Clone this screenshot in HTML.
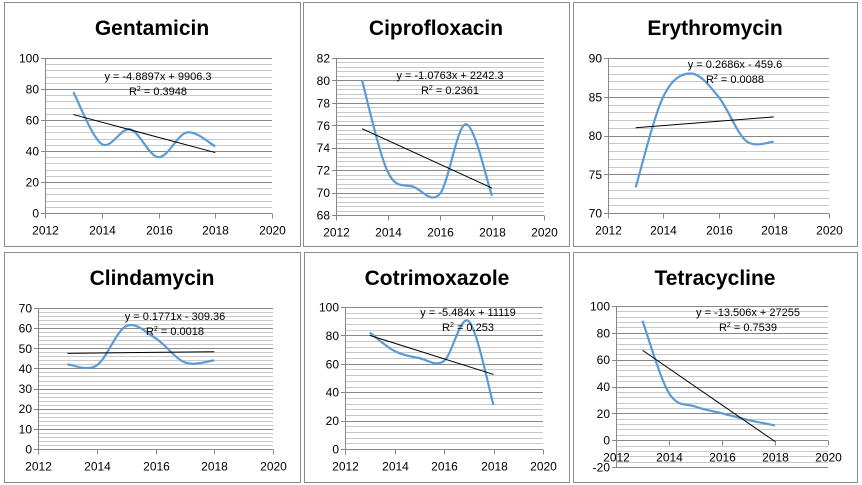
<!DOCTYPE html><html><head><style>body{margin:0;background:#fff;width:862px;height:485px;overflow:hidden}svg{display:block}text{font-family:"Liberation Sans",sans-serif}</style></head><body>
<svg id="s" width="862" height="485" xmlns="http://www.w3.org/2000/svg"></svg>
<script>
const S=document.getElementById('s');let h='';
const P=[
{b:[4,2,296,244],t:'Gentamicin',tx:152,x0:45,x1:272,ymin:0,ymax:100,yt:58,yb:213,step:20,d:[78,44.5,54,36,52,43],tr:[63.5,39],ex:158,ey:80,eq:'y = -4.8897x + 9906.3',r:'0.3948'},
{b:[303,2,266,244],t:'Ciprofloxacin',tx:436,x0:336,x1:544,ymin:68,ymax:82,yt:58,yb:215,step:2,d:[80,71.8,70.5,69.9,76.1,69.7],tr:[75.7,70.4],ex:450,ey:79,eq:'y = -1.0763x + 2242.3',r:'0.2361'},
{b:[573,2,284,244],t:'Erythromycin',tx:715,x0:608,x1:829,ymin:70,ymax:90,yt:58,yb:213,step:5,d:[73.3,85,88,85,79.3,79.2],tr:[81,82.4],ex:735,ey:68,eq:'y = 0.2686x - 459.6',r:'0.0088'},
{b:[4,252,296,230],t:'Clindamycin',tx:152,x0:38,x1:273,ymin:0,ymax:70,yt:308,yb:449,step:10,d:[42,41.5,61,55,43,44],tr:[47.5,48.3],ex:175,ey:320,eq:'y = 0.1771x - 309.36',r:'0.0018'},
{b:[304,252,265,230],t:'Cotrimoxazole',tx:437,x0:345,x1:543,ymin:0,ymax:100,yt:307,yb:449,step:20,d:[82,69,64,62,90,31],tr:[80,52.5],ex:468,ey:316,eq:'y = -5.484x + 11119',r:'0.253'},
{b:[573,252,284,230],t:'Tetracycline',tx:715,x0:616,x1:828,ymin:-20,ymax:100,yt:306,yb:467,step:20,d:[89,35,25,20,15,11],tr:[67,-1],ex:748,ey:316,eq:'y = -13.506x + 27255',r:'0.7539'}];
P.forEach(p=>{
 const [bx,by,bw,bh]=p.b;
 h+=`<rect x="${bx+.5}" y="${by+.5}" width="${bw}" height="${bh}" fill="#fff" stroke="#8c8c8c"/>`;
 h+=`<text x="${p.tx}" y="${by+33}" font-size="21" font-weight="bold" text-anchor="middle">${p.t}</text>`;
 const X=v=>p.x0+(v-2012)/8*(p.x1-p.x0), Y=v=>p.yb-(v-p.ymin)/(p.ymax-p.ymin)*(p.yb-p.yt);
 const ms=p.step/5;
 for(let v=p.ymin;v<=p.ymax+1e-9;v+=ms){const y=Math.round(Y(v))+.5;const maj=Math.abs((v-p.ymin)/p.step-Math.round((v-p.ymin)/p.step))<1e-6;
  h+=`<line x1="${p.x0}" x2="${p.x1}" y1="${y}" y2="${y}" stroke="${maj?'#878787':'#c8c8c8'}"/>`;}
 for(let v=p.ymin;v<=p.ymax+1e-9;v+=p.step){const y=Y(v);h+=`<text x="${p.x0-6}" y="${y+4.5}" font-size="12" text-anchor="end">${Math.round(v)}</text><line x1="${p.x0-4}" x2="${p.x0}" y1="${Math.round(y)+.5}" y2="${Math.round(y)+.5}" stroke="#878787"/>`;}
 h+=`<line x1="${p.x0+.5}" x2="${p.x0+.5}" y1="${p.yt}" y2="${p.yb}" stroke="#878787"/>`;
 const y0=Math.round(Y(Math.max(0,p.ymin)))+.5;
 for(let yr=2012;yr<=2020;yr+=2){const x=Math.round(X(yr))+.5;h+=`<line x1="${x}" x2="${x}" y1="${y0}" y2="${y0+5}" stroke="#878787"/><text x="${x}" y="${y0+21}" font-size="12" text-anchor="middle">${yr}</text>`;}
 const pts=p.d.map((v,i)=>[X(2013+i),Y(v)]);
 let d=`M${pts[0][0]},${pts[0][1]}`;
 for(let i=0;i<pts.length-1;i++){const p0=pts[Math.max(0,i-1)],p1=pts[i],p2=pts[i+1],p3=pts[Math.min(pts.length-1,i+2)];const k=1/6;
  d+=` C${p1[0]+(p2[0]-p0[0])*k},${p1[1]+(p2[1]-p0[1])*k} ${p2[0]-(p3[0]-p1[0])*k},${p2[1]-(p3[1]-p1[1])*k} ${p2[0]},${p2[1]}`;}
 h+=`<path d="${d}" fill="none" stroke="#5b9bd5" stroke-width="2.2"/>`;
 h+=`<line x1="${X(2013)}" y1="${Y(p.tr[0])}" x2="${X(2018)}" y2="${Y(p.tr[1])}" stroke="#000" stroke-width="1"/>`;
 h+=`<text x="${p.ex}" y="${p.ey}" font-size="11" text-anchor="middle">${p.eq}</text><text x="${p.ex}" y="${p.ey+15}" font-size="11" text-anchor="middle">R<tspan font-size="7" dy="-4">2</tspan><tspan dy="4"> = ${p.r}</tspan></text>`;
});
S.innerHTML=h;
</script></body></html>
